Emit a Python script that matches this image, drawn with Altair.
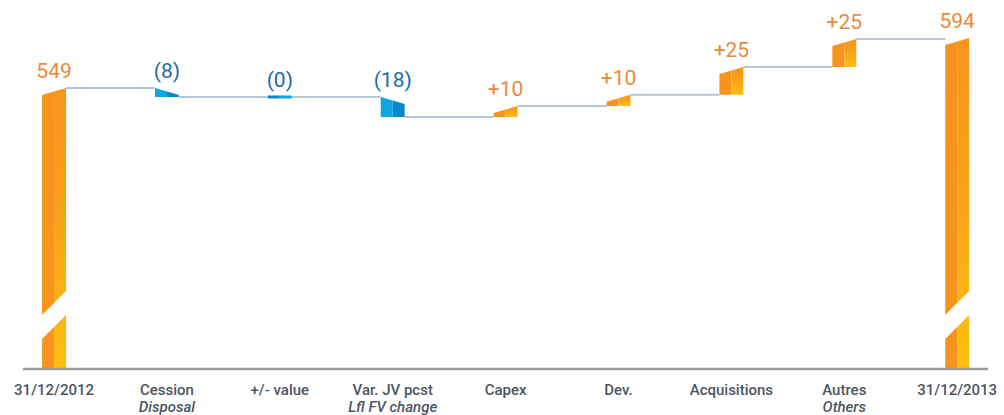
import altair as alt
import pandas as pd

# Waterfall of portfolio value, 31/12/2012 -> 31/12/2013
categories = ["31/12/2012", "Cession", "+/- value", "Var. JV pcst", "Capex",
              "Dev.", "Acquisitions", "Autres", "31/12/2013"]
subtitles = ["", "Disposal", "", "Lfl FV change", "", "", "", "Others", ""]
values = [549, -8, 0, -18, 10, 10, 25, 25, 594]
value_labels = ["549", "(8)", "(0)", "(18)", "+10", "+10", "+25", "+25", "594"]
is_total = [True, False, False, False, False, False, False, False, True]

# Scale extents (broken value axis: totals start from Y_MIN)
Y_MIN, Y_MAX = 297, 628
X_MIN, X_MAX = -0.275, 8.273
HALF = 0.106          # half bar width, in category units
SLANT = 6.3           # rise of the bevelled bar top, in value units
BREAK_LEVEL = 345.4   # where the axis-break cut crosses the total bars
BREAK_DX, BREAK_DY = 0.16, 16.2

ORANGE = "#F7941D"
YELLOW = "#FEBE10"
BLUE_LIGHT = "#0CA6E4"
BLUE_DARK = "#0A86CA"
LABEL_ORANGE = "#E98A3B"
LABEL_BLUE = "#196EA7"
TEXT_GREY = "#4C5663"
FONT = "Roboto"

xs = alt.Scale(domain=[X_MIN, X_MAX], nice=False, zero=False)
ys = alt.Scale(domain=[Y_MIN, Y_MAX], nice=False, zero=False)

# running levels
starts, ends = [], []
running = 0
for v, tot in zip(values, is_total):
    if tot:
        s, e = Y_MIN, v
        running = v
    else:
        s, e = running, running + v
        running = e
    starts.append(s)
    ends.append(e)

pts, zero_rows, bar_rows, conn_rows, break_pts = [], [], [], [], []
for i, (v, s, e) in enumerate(zip(values, starts, ends)):
    c = float(i)
    sign = "pos" if (is_total[i] or v > 0) else "neg"
    if v == 0 and not is_total[i]:
        zero_rows.append({"x": c - HALF, "x2": c, "y": e, "side": "L"})
        zero_rows.append({"x": c, "x2": c + HALF, "y": e, "side": "R"})
    else:
        if e >= s:
            bottom, top_r = s, e
            top_l = max(e - SLANT, s)
        else:
            bottom, top_l = e, s
            top_r = max(s - SLANT, e)
        top_c = (top_l + top_r) / 2
        for side, (xa, ta), (xb, tb) in [("L", (c - HALF, top_l), (c, top_c)),
                                          ("R", (c, top_c), (c + HALF, top_r))]:
            shape = f"{i}{side}"
            pts.append({"shape": shape, "grp": sign + side, "x": xa, "top": ta, "bottom": bottom})
            pts.append({"shape": shape, "grp": sign + side, "x": xb, "top": tb, "bottom": bottom})
    bar_rows.append({
        "x": c, "top": max(s, e), "base": Y_MIN, "label": value_labels[i],
        "cat": categories[i], "sub": subtitles[i], "sign": sign,
    })
    if i < len(values) - 1:
        conn_rows.append({"x": c + HALF, "x2": c + 1 - HALF, "y": e})
    if is_total[i]:
        break_pts.append({"bar": i, "x": c - BREAK_DX, "y": BREAK_LEVEL - BREAK_DY})
        break_pts.append({"bar": i, "x": c + BREAK_DX, "y": BREAK_LEVEL + BREAK_DY})

shapes = pd.DataFrame(pts)
zeros = pd.DataFrame(zero_rows)
bars = pd.DataFrame(bar_rows)
conns = pd.DataFrame(conn_rows)
breaks = pd.DataFrame(break_pts)
axis_df = pd.DataFrame([{"x": X_MIN, "x2": X_MAX, "y": Y_MIN}])

X = alt.X("x:Q", scale=xs, axis=None)

connectors = alt.Chart(conns).mark_rule(color="#B2C8D6", strokeWidth=2).encode(
    x=X, x2="x2:Q", y=alt.Y("y:Q", scale=ys, axis=None),
)


def area_layer(grp, fill):
    return alt.Chart(shapes[shapes["grp"] == grp]).mark_area(
        fill=fill, interpolate="linear"
    ).encode(
        x=X,
        y=alt.Y("top:Q", scale=ys, axis=None),
        y2="bottom:Q",
        detail="shape:N",
    )


orange_grad = alt.Gradient(
    gradient="linear",
    stops=[alt.GradientStop(color=ORANGE, offset=0),
           alt.GradientStop(color="#F9A11A", offset=0.45),
           alt.GradientStop(color=YELLOW, offset=1)],
    x1=0, x2=0, y1=0, y2=1,
)

pos_left = area_layer("posL", ORANGE)
pos_right = area_layer("posR", orange_grad)
neg_left = area_layer("negL", BLUE_LIGHT)
neg_right = area_layer("negR", BLUE_DARK)


def zero_layer(side, col):
    return alt.Chart(zeros[zeros["side"] == side]).mark_rule(strokeWidth=3, color=col).encode(
        x=X, x2="x2:Q", y=alt.Y("y:Q", scale=ys, axis=None),
    )


zero_l = zero_layer("L", BLUE_DARK)
zero_r = zero_layer("R", BLUE_LIGHT)

break_cut = alt.Chart(breaks).mark_line(color="white", strokeWidth=17, strokeCap="butt").encode(
    x=X, y=alt.Y("y:Q", scale=ys, axis=None), detail="bar:N",
)

axis_line = alt.Chart(axis_df).mark_rule(color="#9B9B9B", strokeWidth=2.5).encode(
    x=X, x2="x2:Q", y=alt.Y("y:Q", scale=ys, axis=None),
)

value_text = alt.Chart(bars).mark_text(
    font=FONT, fontSize=21, baseline="alphabetic", align="center", dy=-10
).encode(
    x=X,
    y=alt.Y("top:Q", scale=ys, axis=None),
    text="label:N",
    color=alt.Color("sign:N", scale=alt.Scale(domain=["pos", "neg"], range=[LABEL_ORANGE, LABEL_BLUE]),
                    legend=None),
)

cat_text = alt.Chart(bars).mark_text(
    font=FONT, fontSize=15, fontWeight=500, baseline="alphabetic", align="center",
    dy=25.5, color=TEXT_GREY
).encode(
    x=X, y=alt.Y("base:Q", scale=ys, axis=None), text="cat:N",
)

sub_text = alt.Chart(bars).mark_text(
    font=FONT, fontSize=15, fontWeight=500, fontStyle="italic", baseline="alphabetic",
    align="center", dy=42.5, color=TEXT_GREY
).encode(
    x=X, y=alt.Y("base:Q", scale=ys, axis=None), text="sub:N",
)

chart = alt.layer(
    connectors, pos_left, pos_right, neg_left, neg_right, zero_l, zero_r, break_cut,
    axis_line, value_text, cat_text, sub_text,
).properties(
    width=965, height=369,
    padding={"left": 23, "top": 0, "right": 16, "bottom": 46},
    autosize="none",
    background="white",
).configure_view(stroke=None)

chart.save("out.html", embed_options={"renderer": "svg", "actions": False})
